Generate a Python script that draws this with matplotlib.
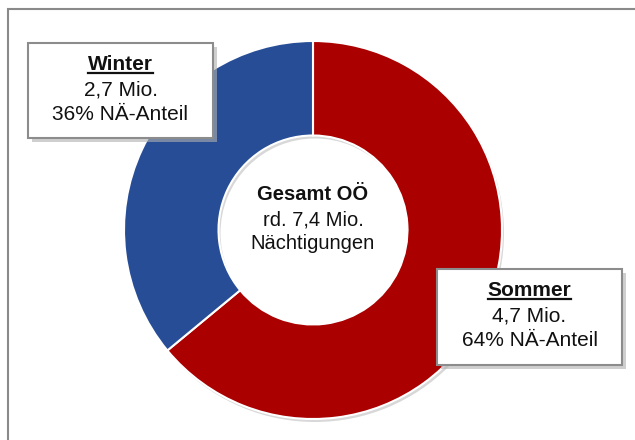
import matplotlib.pyplot as plt
from matplotlib.patches import Rectangle

plt.rcParams['font.family'] = ['Liberation Sans', 'DejaVu Sans']

# data
seasons = ['Sommer', 'Winter']
shares = [64, 36]
mio = ['4,7', '2,7']
colors = ['#AA0000', '#264D96']
total_lines = ['Gesamt OÖ', 'rd. 7,4 Mio.', 'Nächtigungen']

W, H = 635, 440
fig = plt.figure(figsize=(W / 100, H / 100), dpi=100)
ax = fig.add_axes([0, 0, 1, 1])
ax.set_xlim(0, W)
ax.set_ylim(0, H)
ax.axis('off')

# outer frame (runs off right and bottom)
ax.add_patch(Rectangle((8, -20), 700, H - 9 + 20, fill=False,
                       edgecolor='#8a8a8a', lw=1.5))

cx, cy, r = 313, H - 230, 189
# soft shadow ring
ax.pie([1], radius=r, center=(cx + 2, cy - 3), colors=['#d8d8d8'],
       wedgeprops=dict(width=r * 0.5, edgecolor='none'))
ax.pie(shares, radius=r, center=(cx, cy), colors=colors, startangle=90,
       counterclock=False,
       wedgeprops=dict(width=r * 0.5, edgecolor='white', linewidth=1.5))
ax.set_xlim(0, W)
ax.set_ylim(0, H)
ax.set_aspect('equal')

for i, (txt, yy) in enumerate(zip(total_lines, [194, 220, 243])):
    ax.text(cx, H - yy, txt, ha='center', va='center', fontsize=14.5,
            fontweight='bold' if i == 0 else 'normal', color='#111111')


def label_box(x0, y0, x1, y1, title, line2, line3):
    # shadow + box, given in pixel coordinates from top-left
    ax.add_patch(Rectangle((x0 + 4, H - y1 - 4), x1 - x0, y1 - y0,
                           facecolor='#b0b0b0', edgecolor='none', alpha=0.6))
    ax.add_patch(Rectangle((x0, H - y1), x1 - x0, y1 - y0,
                           facecolor='white', edgecolor='#8c8c8c', lw=1.5))
    xm = (x0 + x1) / 2
    t = ax.text(xm, H - (y0 + 21), title, ha='center', va='center',
                fontsize=15, fontweight='bold', color='#111111')
    ax.text(xm, H - (y0 + 47), line2, ha='center', va='center',
            fontsize=15, color='#111111')
    ax.text(xm, H - (y0 + 71), line3, ha='center', va='center',
            fontsize=15, color='#111111')
    fig.canvas.draw()
    bb = t.get_window_extent().transformed(ax.transData.inverted())
    ax.plot([bb.x0, bb.x1], [bb.y0 + 1, bb.y0 + 1], color='#111111', lw=1.6)


label_box(28, 43, 213, 138, seasons[1], mio[1] + ' Mio.', f'{shares[1]}% NÄ-Anteil')
label_box(437, 269, 622, 365, seasons[0], mio[0] + ' Mio.', f'{shares[0]}% NÄ-Anteil')

fig.savefig('out.png', dpi=100)
